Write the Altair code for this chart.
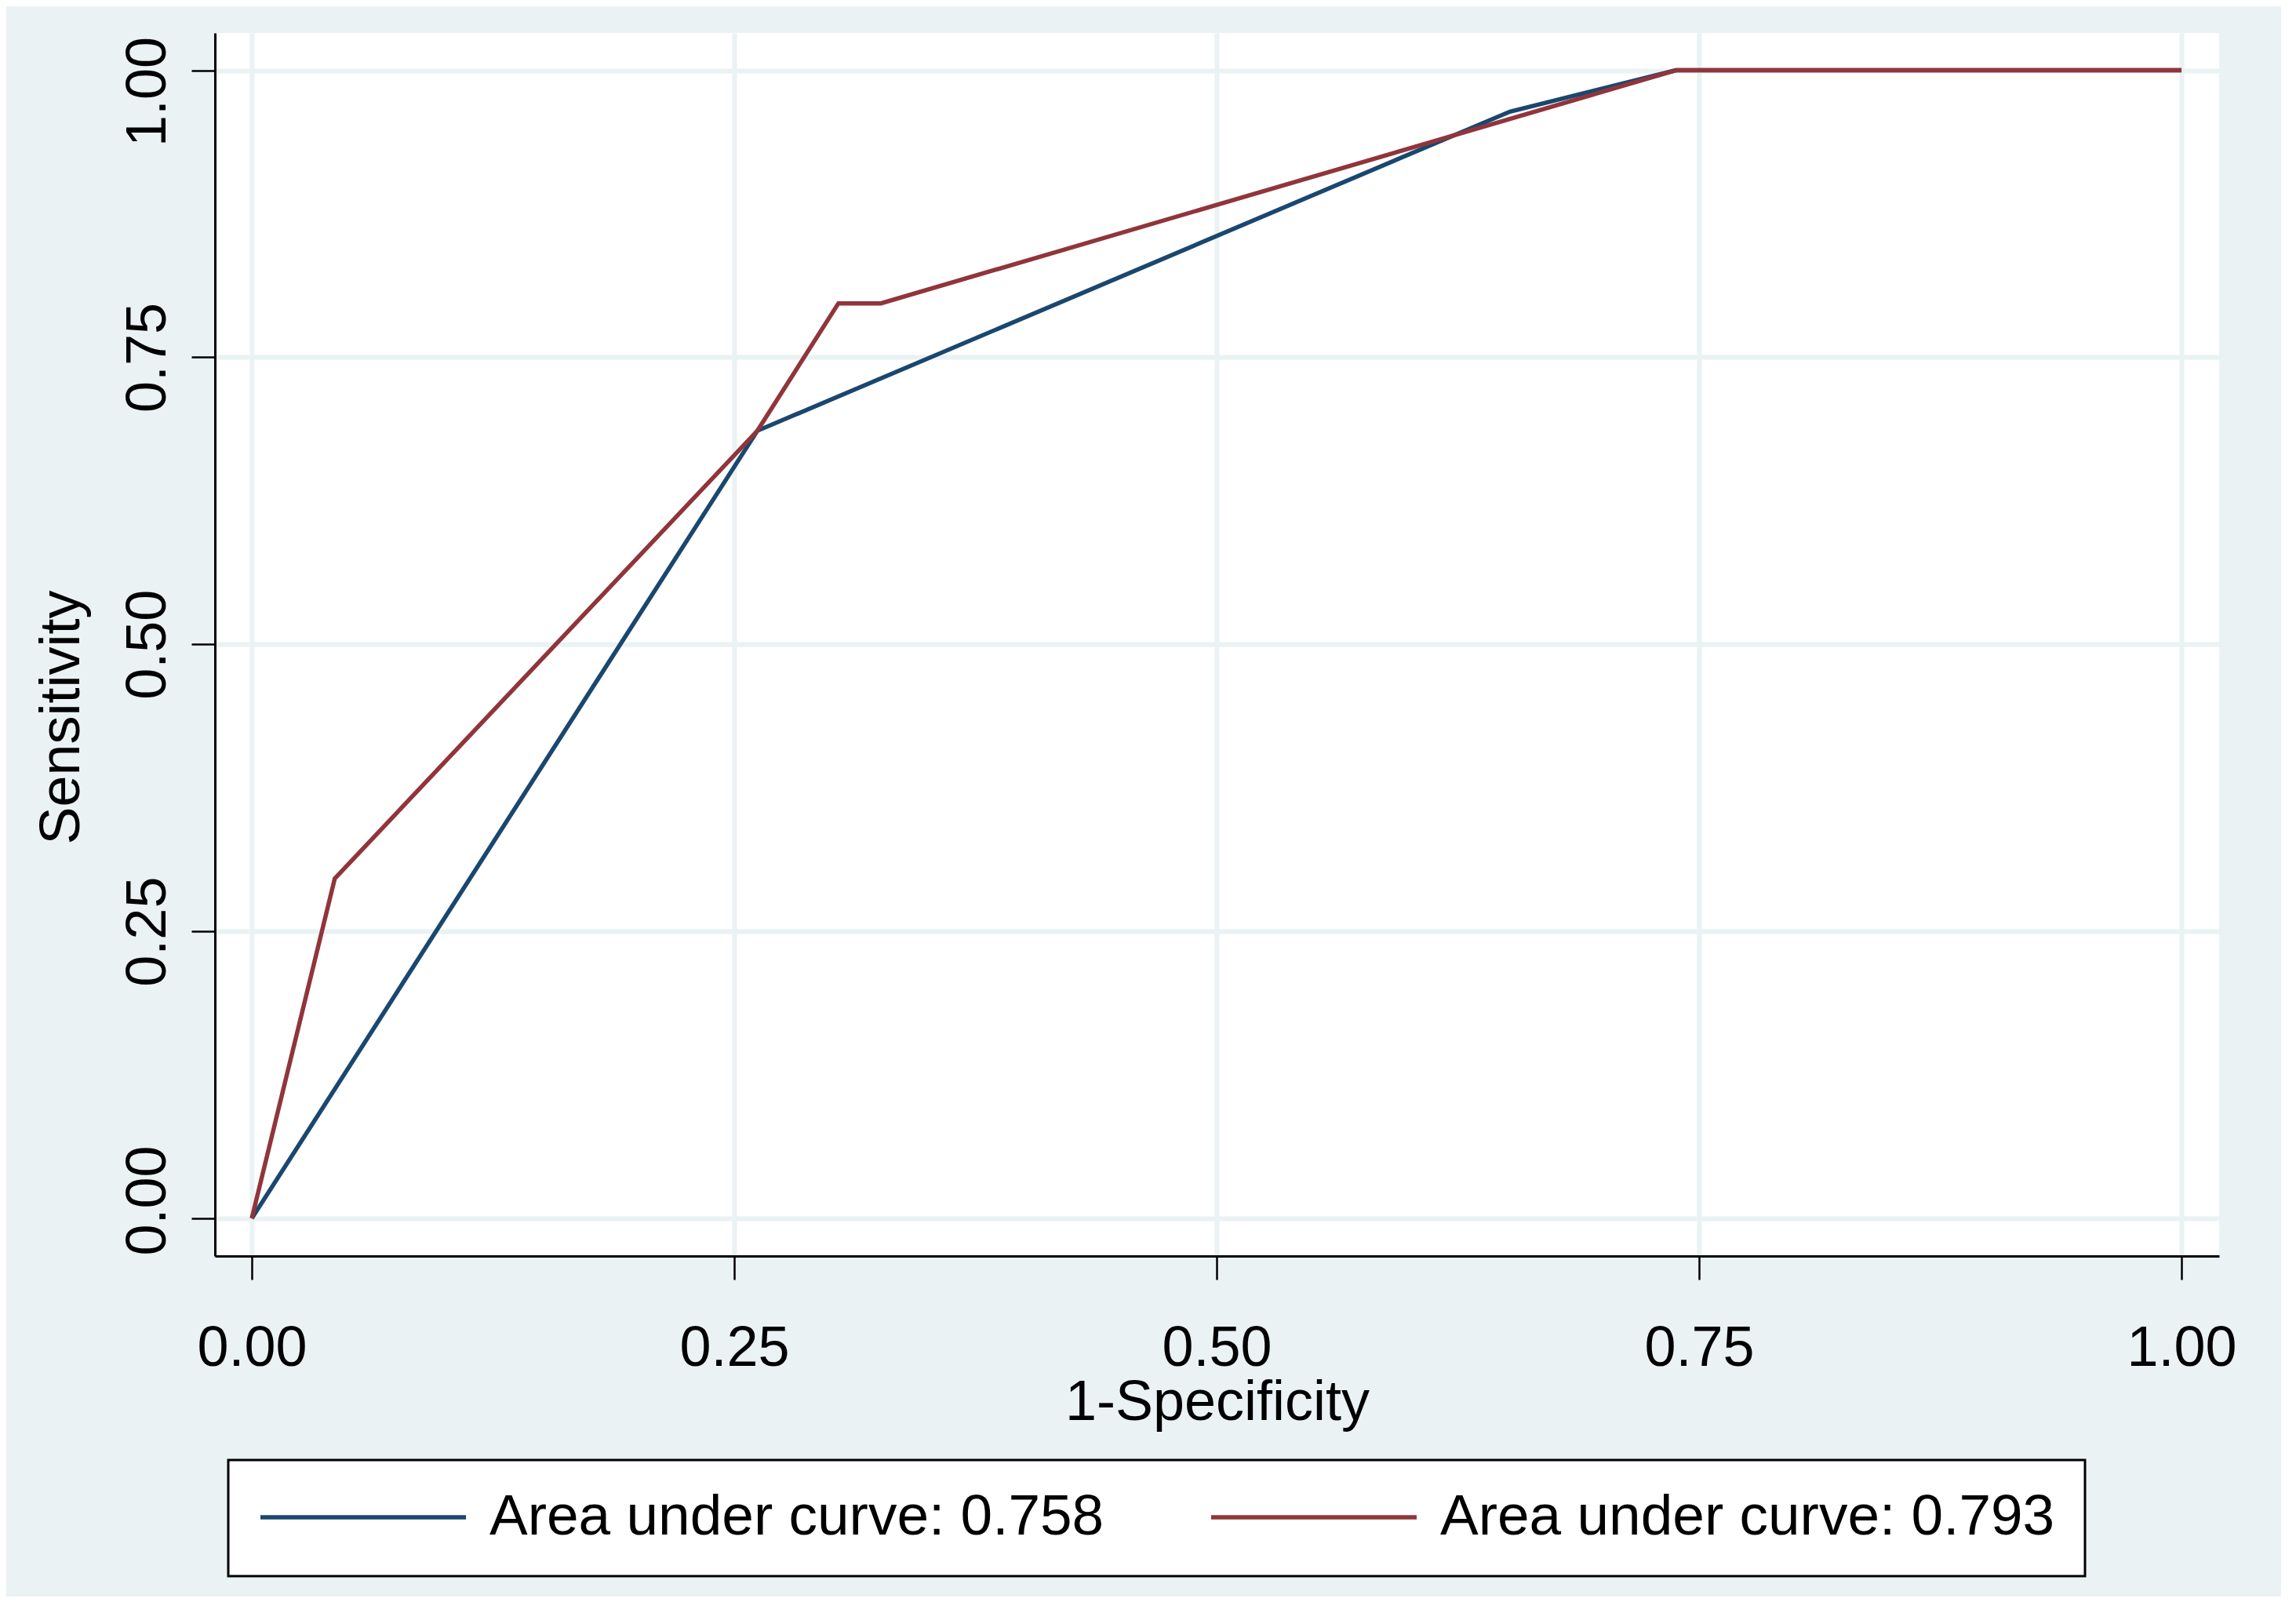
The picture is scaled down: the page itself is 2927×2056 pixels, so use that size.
import altair as alt
import pandas as pd

# ROC curve points
blue_x = [0.0, 0.262, 0.652, 0.738, 1.0]
blue_y = [0.0, 0.686, 0.964, 1.0, 1.0]
red_x = [0.0, 0.043, 0.262, 0.304, 0.326, 0.738, 1.0]
red_y = [0.0, 0.296, 0.686, 0.797, 0.797, 1.0, 1.0]

series_labels = ["Area under curve: 0.758", "Area under curve: 0.793"]
series_colors = ["#1A476F", "#90353B"]
tick_values = [0.0, 0.25, 0.5, 0.75, 1.0]

rows = []
for i, (x, y) in enumerate(zip(blue_x, blue_y)):
    rows.append({"fpr": x, "tpr": y, "series": series_labels[0], "order": i})
for i, (x, y) in enumerate(zip(red_x, red_y)):
    rows.append({"fpr": x, "tpr": y, "series": series_labels[1], "order": i})
df = pd.DataFrame(rows)

FONT = "Liberation Sans"
BG = "#EAF2F3"
W, H = 2555, 1559

x_axis = alt.Axis(
    values=tick_values, format=".2f", title="1-Specificity",
    grid=True, gridColor=BG, gridWidth=6,
    domainColor="black", domainWidth=3,
    ticks=True, tickColor="black", tickWidth=2.5, tickSize=30,
    labelFont=FONT, labelFontSize=72, labelColor="black",
    labelAlign="center", labelBaseline="alphabetic", labelPadding=109,
    labelOverlap=False, labelFlush=False,
    titleFont=FONT, titleFontSize=72, titleFontWeight="normal", titleColor="black",
    titleBaseline="alphabetic", titleAlign="center", titleX=W / 2, titleY=208,
)

y_axis = alt.Axis(
    values=tick_values, format=".2f", title="Sensitivity",
    grid=True, gridColor=BG, gridWidth=6,
    domainColor="black", domainWidth=3,
    ticks=True, tickColor="black", tickWidth=2.5, tickSize=30,
    labelFont=FONT, labelFontSize=72, labelColor="black",
    labelAngle=270, labelAlign="center", labelBaseline="alphabetic", labelPadding=34,
    labelOffset={"condition": [{"test": "datum.value === 1", "value": 27},
                               {"test": "datum.value === 0", "value": -23}],
                 "value": 0},
    labelOverlap=False, labelFlush=False,
    titleFont=FONT, titleFontSize=72, titleFontWeight="normal", titleColor="black",
    titleAngle=270, titleBaseline="alphabetic", titleAlign="center",
    titleX=-174, titleY=872,
)

legend = alt.Legend(
    title=None, orient="none", legendX=17, legendY=1819, direction="horizontal",
    symbolType="stroke", symbolSize=68644, symbolStrokeWidth=5.5, clipHeight=70,
    labelFont=FONT, labelFontSize=73, labelColor="black", labelOffset=27,
    labelLimit=3000, labelBaseline="middle", columnPadding=133, padding=38,
    strokeColor="black", fillColor="white",
)

chart = alt.Chart(df).mark_line(strokeWidth=5.5).encode(
    x=alt.X("fpr:Q", scale=alt.Scale(domain=[-0.0191, 1.0195], nice=False, zero=False), axis=x_axis),
    y=alt.Y("tpr:Q", scale=alt.Scale(domain=[-0.0328, 1.0325], nice=False, zero=False), axis=y_axis),
    color=alt.Color("series:N", scale=alt.Scale(domain=series_labels, range=series_colors), legend=legend),
    order=alt.Order("order:Q"),
).properties(
    width=W, height=H,
    autosize=alt.AutoSizeParams(type="none"),
    padding={"left": 266, "top": 34, "right": 79, "bottom": 434},
    background=BG,
).configure_view(
    fill="white", strokeWidth=0,
).configure_legend(
    strokeWidth=3,
)

chart.save("out.html", embed_options={"renderer": "svg", "actions": False})
